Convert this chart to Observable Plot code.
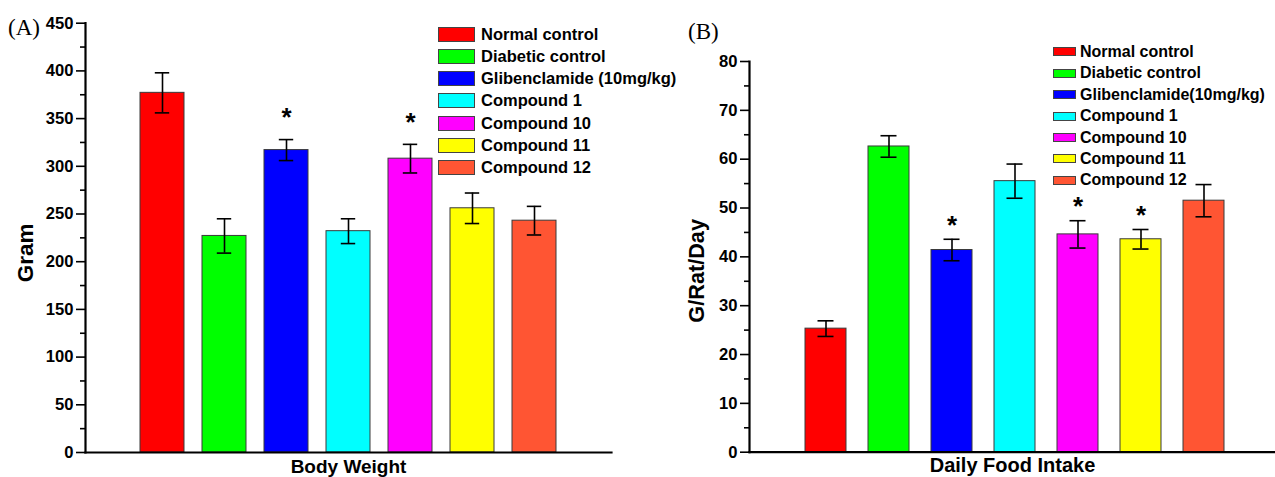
<!DOCTYPE html>
<html><head><meta charset="utf-8">
<script src="https://cdn.jsdelivr.net/npm/d3@7"></script>
<script src="https://cdn.jsdelivr.net/npm/@observablehq/plot@0.6"></script>
<style>
body{margin:0;background:#fff;}
#wrap{position:relative;width:1275px;height:477px;overflow:hidden;font-family:"Liberation Sans",Arial,sans-serif;background:#fff;}
.panel{position:absolute;top:0;}
.tag{position:absolute;font-family:"Liberation Serif","DejaVu Serif",serif;font-size:23px;line-height:23px;}
.legend{position:absolute;left:0;top:0;font-weight:bold;color:#000;}
.legend .row{position:absolute;display:flex;align-items:center;white-space:nowrap;height:20px;}
.legend .sw{box-sizing:border-box;border:1px solid #444;flex:none;}
</style></head><body><div id="wrap"></div>
<script>
const groupsA = ["Normal control","Diabetic control","Glibenclamide (10mg/kg)","Compound 1","Compound 10","Compound 11","Compound 12"];
const groupsB = ["Normal control","Diabetic control","Glibenclamide(10mg/kg)","Compound 1","Compound 10","Compound 11","Compound 12"];
const colors = ["#ff0000","#00ff00","#0000ff","#00ffff","#ff00ff","#ffff00","#ff5533"];
const weight = [377,227,317,232,308,256,243];
const weightErr = [21,18,11,13,15,16,15];
const weightSig = [false,false,true,false,true,false,false];
const intake = [25.3,62.6,41.4,55.5,44.6,43.6,51.5];
const intakeErr = [1.6,2.2,2.2,3.5,2.8,2.0,3.3];
const intakeSig = [false,false,true,false,true,true,false];

function panel(o) {
  const data = o.groups.map((g,i)=>({g, v:o.vals[i], e:o.errs[i], s:o.sig[i], c:colors[i]}));
  const svg = Plot.plot({
    width:o.width, height:o.height,
    marginLeft:o.mL, marginTop:o.mT, marginBottom:o.mB, marginRight:o.mR,
    style:{fontFamily:"'Liberation Sans', Arial, sans-serif", fontWeight:"bold", fontSize:"16px", color:"#000", background:"transparent", overflow:"visible"},
    x:{domain:o.groups, paddingInner:o.pi, paddingOuter:o.po, axis:null},
    y:{domain:[0,o.yMax], axis:null},
    marks:[
      Plot.barY(data,{x:"g", y:"v", fill:"c", stroke:"#3a3a3a", strokeWidth:1}),
      Plot.ruleX(data,{x:"g", y1:d=>d.v-d.e, y2:d=>d.v+d.e, stroke:"#000", strokeWidth:1.6}),
      Plot.tickY(data,{x:"g", y:d=>d.v+d.e, stroke:"#000", strokeWidth:1.6, insetLeft:o.capInset, insetRight:o.capInset}),
      Plot.tickY(data,{x:"g", y:d=>d.v-d.e, stroke:"#000", strokeWidth:1.6, insetLeft:o.capInset, insetRight:o.capInset}),
      Plot.text(data.filter(d=>d.s),{x:"g", y:d=>d.v+d.e, text:()=>"*", dy:o.starDy, fontSize:26, fill:"#000"}),
      Plot.axisY({ticks:d3.range(0,o.yMax+0.001,o.major), tickSize:9, tickPadding:3, label:null, strokeWidth:1.6, fontSize:16.6, fontWeight:"bold"}),
      Plot.axisY({ticks:d3.range(o.major/2,o.yMax,o.major), tickSize:5, text:null, label:null, strokeWidth:1.6}),
      Plot.frame({anchor:"left", stroke:"#000", strokeWidth:2.2}),
      Plot.frame({anchor:"bottom", stroke:"#000", strokeWidth:2.2}),
      Plot.text([o.ylabel],{frameAnchor:"left", textAnchor:"middle", rotate:-90, dx:o.yLabDx, dy:o.yLabDy, fontSize:o.yLabSize, fontWeight:"bold", fill:"#000"}),
      Plot.text([o.xlabel],{frameAnchor:"bottom", textAnchor:"middle", dy:o.xLabDy, dx:o.xLabDx, fontSize:o.xLabSize, fontWeight:"bold", fill:"#000"})
    ]
  });
  svg.querySelectorAll('g[aria-label="y-axis tick label"]').forEach(g=>{
    g.setAttribute("font-size","16.6");
    g.style.fontSize="16.6px";
    g.style.fontWeight="bold";
    g.querySelectorAll("text").forEach(t=>{t.style.fontSize="16.6px";});
  });
  return svg;
}

const wrap = document.getElementById("wrap");

const A = panel({groups:groupsA, vals:weight, errs:weightErr, sig:weightSig, yMax:450, major:50,
  width:640, height:477, mL:85, mT:22.7, mB:25, mR:29, pi:0.286, po:0.818, capInset:14.8, starDy:-22,
  ylabel:"Gram", xlabel:"Body Weight", yLabDx:-60, yLabDy:15, yLabSize:22.5, xLabSize:19, xLabDx:0, xLabDy:20});
A.classList.add("panel"); A.style.left="0px";
wrap.appendChild(A);

const B = panel({groups:groupsB, vals:intake, errs:intakeErr, sig:intakeSig, yMax:80, major:10,
  width:640, height:477, mL:109, mT:61, mB:25.3, mR:1, pi:0.35, po:0.875, capInset:12.5, starDy:-14,
  ylabel:"G/Rat/Day", xlabel:"Daily Food Intake", yLabDx:-52, yLabDy:14, yLabSize:21.7, xLabSize:20, xLabDx:-2, xLabDy:20});
B.classList.add("panel"); B.style.left="640px";
wrap.appendChild(B);

function tag(text, left, cy) {
  const d = document.createElement("div");
  d.className = "tag"; d.textContent = text;
  d.style.left = left+"px"; d.style.top = (cy-12)+"px";
  wrap.appendChild(d);
}
tag("(A)", 8, 28);
tag("(B)", 688, 32);

function legend(names, swL, swW, swH, gap, cy0, step, fs) {
  const L = document.createElement("div");
  L.className = "legend";
  names.forEach((n,i)=>{
    const r = document.createElement("div");
    r.className = "row";
    r.style.left = swL+"px"; r.style.top = (cy0+step*i-10)+"px";
    r.style.fontSize = fs+"px";
    const s = document.createElement("div");
    s.className = "sw";
    s.style.width = swW+"px"; s.style.height = swH+"px"; s.style.background = colors[i];
    s.style.marginRight = gap+"px";
    const t = document.createElement("span"); t.textContent = n;
    r.appendChild(s); r.appendChild(t);
    L.appendChild(r);
  });
  wrap.appendChild(L);
}
legend(groupsA, 438, 37, 15, 6, 34, 22.3, 16.5);
legend(groupsB, 1053, 23, 9, 4, 51.7, 21.45, 16);
</script></body></html>
